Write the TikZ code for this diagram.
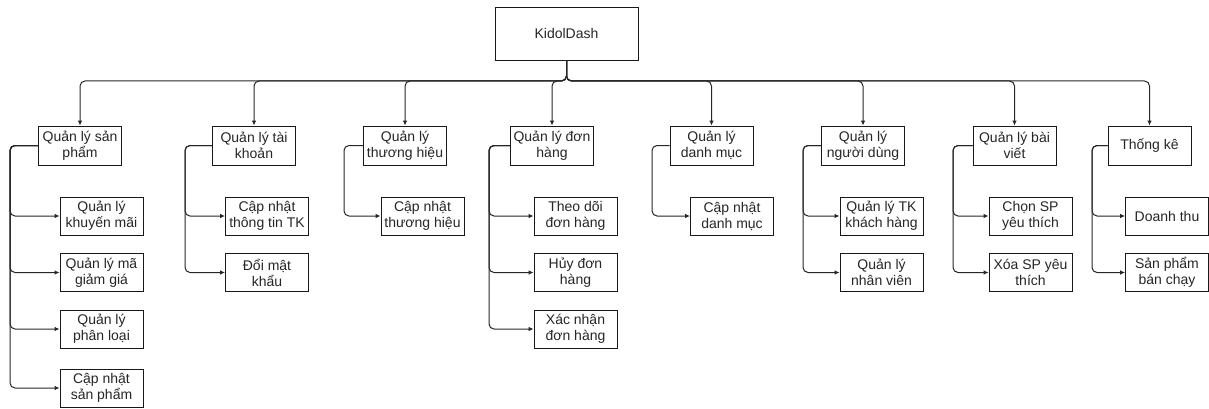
\documentclass[tikz,border=0pt]{standalone}
\usepackage{fontspec}
\setmainfont{Liberation Sans}
\usetikzlibrary{arrows.meta}
\begin{document}
\begin{tikzpicture}[x=1pt,y=-1pt,
  box/.style={draw=black!90,line width=0.8pt,fill=white,minimum width=83pt,minimum height=39pt,inner sep=0pt,align=center,text=black!85,font=\fontsize{14}{16}\selectfont},
  kid/.style={box,minimum height=38pt},
  conn/.style={draw=black!85,line width=1pt,rounded corners=5pt,-{Latex[length=5pt,width=4.5pt]}}]
\useasboundingbox (0,0) rectangle (1209,409);
\node[box,minimum width=143pt,minimum height=53pt] (root) at (566.5,33.5) {KidolDash};
\coordinate (bus) at (566.5,81);
% level 1
\node[box] (p1) at (80,145.5) {Quản lý sản\\phẩm};
\node[box] (p2) at (254,145.5) {Quản lý tài\\khoản};
\node[box] (p3) at (405,145.5) {Quản lý\\thương hiệu};
\node[box] (p4) at (552,145.5) {Quản lý đơn\\hàng};
\node[box] (p5) at (711.5,145.5) {Quản lý\\danh mục};
\node[box] (p6) at (863,145.5) {Quản lý\\người dùng};
\node[box] (p7) at (1014.5,145.5) {Quản lý bài\\viết};
\node[box] (p8) at (1149.5,145.5) {Thống kê};
\foreach \p in {p1,p2,p3,p4,p5,p6,p7,p8}
  \draw[conn] (root.south) -- (bus) -| (\p.north);
% level 2
\node[kid] (k11) at (101.5,216) {Quản lý\\khuyến mãi};
\node[kid] (k12) at (101.5,272.5) {Quản lý mã\\giảm giá};
\node[kid] (k13) at (101.5,329) {Quản lý\\phân loại};
\node[kid] (k14) at (101.5,388) {Cập nhật\\sản phẩm};
\node[kid] (k21) at (267,216) {Cập nhật\\thông tin TK};
\node[kid] (k22) at (267,272.5) {Đổi mật\\khẩu};
\node[kid] (k31) at (422.5,216) {Cập nhật\\thương hiệu};
\node[kid] (k41) at (575.5,216) {Theo dõi\\đơn hàng};
\node[kid] (k42) at (575.5,272.5) {Hủy đơn\\hàng};
\node[kid] (k43) at (575.5,329) {Xác nhận\\đơn hàng};
\node[kid] (k51) at (732,216) {Cập nhật\\danh mục};
\node[kid] (k61) at (881.5,216) {Quản lý TK\\khách hàng};
\node[kid] (k62) at (881.5,272.5) {Quản lý\\nhân viên};
\node[kid] (k71) at (1030.5,216) {Chọn SP\\yêu thích};
\node[kid] (k72) at (1030.5,272.5) {Xóa SP yêu\\thích};
\node[kid] (k81) at (1167,216) {Doanh thu};
\node[kid] (k82) at (1167,272.5) {Sản phẩm\\bán chạy};
% branch buses
\coordinate (b1) at (10,0);
\coordinate (b2) at (185,0);
\coordinate (b3) at (344,0);
\coordinate (b4) at (489,0);
\coordinate (b5) at (652,0);
\coordinate (b6) at (803,0);
\coordinate (b7) at (953,0);
\coordinate (b8) at (1092,0);
\foreach \p/\b/\k in {p1/b1/k11,p1/b1/k12,p1/b1/k13,p1/b1/k14,
  p2/b2/k21,p2/b2/k22,p3/b3/k31,p4/b4/k41,p4/b4/k42,p4/b4/k43,
  p5/b5/k51,p6/b6/k61,p6/b6/k62,p7/b7/k71,p7/b7/k72,p8/b8/k81,p8/b8/k82}
  \draw[conn] (\p.west) -- (\p.west -| \b) |- (\k.west);
\end{tikzpicture}
\end{document}
